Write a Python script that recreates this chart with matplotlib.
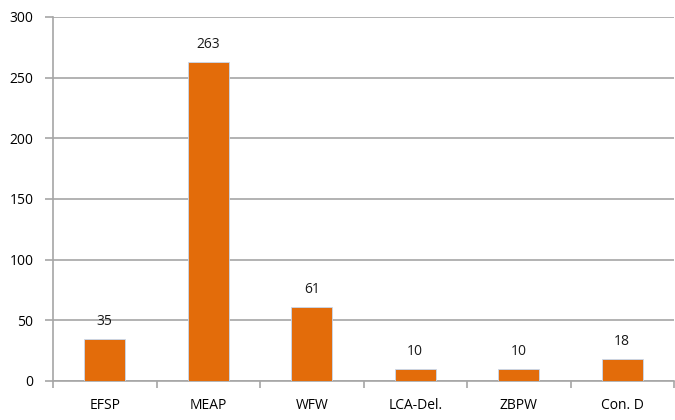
import matplotlib
matplotlib.use("Agg")
import matplotlib.pyplot as plt

categories = ["EFSP", "MEAP", "WFW", "LCA-Del.", "ZBPW", "Con. D"]
values = [35, 263, 61, 10, 10, 18]

BAR_COLOR = "#E36C0A"
GRID_COLOR = "#A6A6A6"

plt.rcParams["font.family"] = ["Open Sans", "DejaVu Sans"]

fig = plt.figure(figsize=(6.75, 4.2), dpi=100)
ax = fig.add_axes([53 / 675, 1 - 381 / 420, 621 / 675, 364 / 420])

x = range(len(categories))
ax.bar(x, values, width=0.4, color=BAR_COLOR, edgecolor="#C6D9F1", linewidth=0.6, zorder=3)
for xi, v in zip(x, values):
    ax.text(xi, v + 8, str(v), ha="center", va="bottom", fontsize=10, color="#1a1a1a")

ax.set_xlim(-0.5, len(categories) - 0.5)
ax.set_ylim(0, 300)
ax.set_yticks(range(0, 301, 50))
ax.yaxis.grid(True, color=GRID_COLOR, linewidth=1.2, zorder=0)

ax.set_xticks([i - 0.5 for i in range(len(categories) + 1)])
ax.set_xticklabels([])
ax.set_xticks(list(x), minor=True)
ax.set_xticklabels(categories, minor=True)
ax.tick_params(axis="x", which="major", length=5, color=GRID_COLOR, width=1.2)
ax.tick_params(axis="x", which="minor", length=0, pad=12, labelsize=10)
ax.tick_params(axis="y", length=6, color=GRID_COLOR, width=1.2, labelsize=10, pad=8)

for side in ["top", "right"]:
    ax.spines[side].set_visible(False)
for side in ["left", "bottom"]:
    ax.spines[side].set_color(GRID_COLOR)
    ax.spines[side].set_linewidth(1.2)

fig.savefig("out.png", dpi=100)
